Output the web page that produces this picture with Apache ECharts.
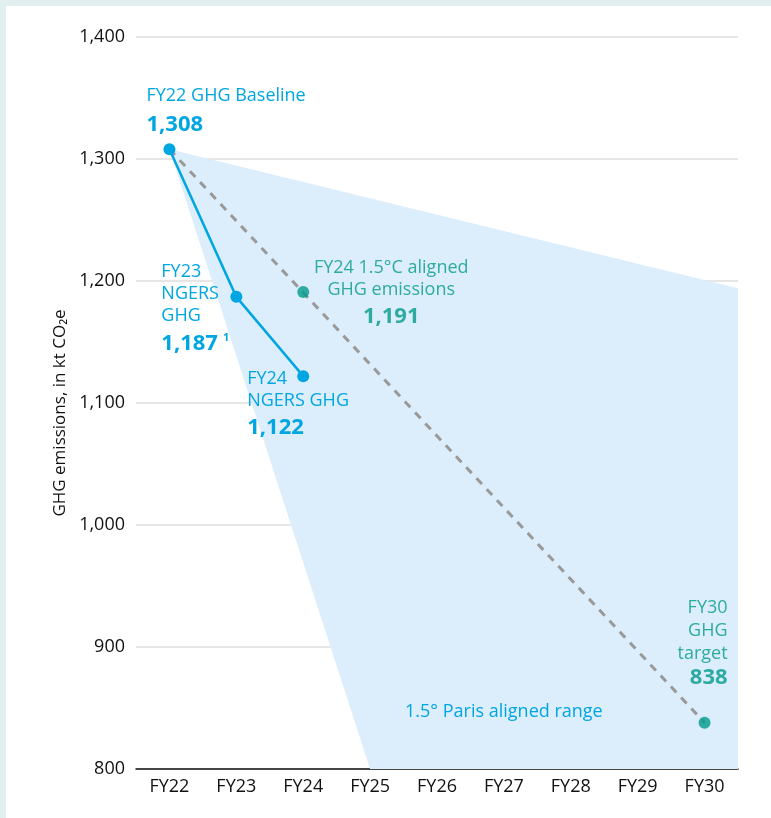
<!DOCTYPE html>
<html>
<head>
<meta charset="utf-8">
<script src="https://cdn.jsdelivr.net/npm/echarts@6/dist/echarts.min.js"></script>
<style>
html,body{margin:0;padding:0;background:#e1efef;}
#chart{width:771px;height:818px;}
</style>
</head>
<body>
<div id="chart"></div>
<script>
const categories = ['FY22','FY23','FY24','FY25','FY26','FY27','FY28','FY29','FY30'];
const yTicks = [800, 900, 1000, 1100, 1200, 1300, 1400];
const ngersValues = [1308, 1187, 1122];          // FY22..FY24
const pathwayValues = [[0, 1308], [8, 838]];     // dashed 1.5°C pathway
const alignedPoints = [[2, 1191], [8, 838]];     // FY24 aligned, FY30 target
const parisRange = [[0, 1308], [8.5, 1194], [8.5, 800], [3, 800]];
const rangeLabelAt = [5, 847];

const BLUE = '#00a6e2';
const GREEN = '#009a8b';
const FONT = 'Open Sans';
const FS = 18;

const chart = echarts.init(document.getElementById('chart'));

const richA = (color) => ({ fontSize: FS, color: color, lineHeight: 22, fontFamily: FONT });
const richB = (color, lh) => ({ fontSize: 22, fontWeight: 'bold', color: color, lineHeight: lh, fontFamily: FONT });

const fmt = (v) => v.toLocaleString('en-US');

const option = {
  backgroundColor: '#e1efef',
  animation: false,
  graphic: [{
    type: 'rect', left: 6, top: 6, shape: { width: 765, height: 812 },
    style: { fill: '#ffffff' }, z: -10, silent: true
  }],
  grid: { left: 136, right: 33, top: 37, bottom: 49 },
  xAxis: {
    type: 'value', min: -0.5, max: 8.5,
    axisLine: { show: true, onZero: false, lineStyle: { color: '#111', width: 1.5 } },
    axisTick: { show: false },
    splitLine: { show: false },
    axisLabel: {
      customValues: categories.map((c, i) => i),
      formatter: (v) => categories[Math.round(v)],
      color: '#111', fontSize: FS, fontFamily: FONT, margin: 9
    }
  },
  yAxis: {
    type: 'value', min: yTicks[0], max: yTicks[yTicks.length - 1], interval: 100,
    name: 'GHG emissions, in kt CO₂e',
    nameLocation: 'middle', nameGap: 61, nameRotate: 90,
    nameTextStyle: { color: '#111', fontSize: 17, fontFamily: FONT, padding: [0, 20, 0, 0] },
    axisLine: { show: false }, axisTick: { show: false },
    splitLine: { lineStyle: { color: '#dedede', width: 1.5 } },
    axisLabel: { formatter: (v) => fmt(v), color: '#111', fontSize: FS, fontFamily: FONT, margin: 11 }
  },
  series: [
    {
      type: 'custom', silent: true, z: 1,
      data: [0],
      renderItem: (params, api) => {
        const c = api.coord(rangeLabelAt);
        return {
          type: 'group',
          children: [
            { type: 'polygon', shape: { points: parisRange.map(p => api.coord(p)) }, style: { fill: '#dcedfb' } },
            { type: 'text', x: c[0], y: c[1], style: { text: '1.5° Paris aligned range', fill: BLUE, fontSize: FS, fontFamily: FONT, align: 'center', verticalAlign: 'middle' } }
          ]
        };
      }
    },
    {
      type: 'line', z: 3, silent: true,
      data: pathwayValues, symbol: 'none',
      lineStyle: { color: '#999999', width: 3, type: [8, 7] }
    },
    {
      type: 'line', z: 4, silent: true,
      symbol: 'circle', symbolSize: 12,
      itemStyle: { color: BLUE }, lineStyle: { color: BLUE, width: 2.5 },
      label: { show: true },
      labelLayout: { hideOverlap: false },
      data: [
        { value: [0, ngersValues[0]], label: {
          position: [-17, -60], align: 'left', verticalAlign: 'top',
          formatter: '{a|FY22 GHG Baseline}\n{b|' + fmt(ngersValues[0]) + '}',
          rich: { a: Object.assign(richA(BLUE), { lineHeight: 26 }), b: richB(BLUE, 30) } } },
        { value: [1, ngersValues[1]], label: {
          position: [-69, -30], align: 'left', verticalAlign: 'top',
          formatter: '{a|FY23}\n{a|NGERS}\n{a|GHG}\n{b|' + fmt(ngersValues[1]) + '}{c|1}',
          rich: { a: richA(BLUE), b: richB(BLUE, 34), c: { fontSize: 11, color: BLUE, fontWeight: 'bold', fontFamily: FONT, padding: [0, 0, 12, 5] } } } },
        { value: [2, ngersValues[2]], label: {
          position: [-50, -2], align: 'left', verticalAlign: 'top',
          formatter: '{a|FY24}\n{a|NGERS GHG}\n{b|' + fmt(ngersValues[2]) + '}',
          rich: { a: richA(BLUE), b: richB(BLUE, 32) } } }
      ]
    },
    {
      type: 'scatter', z: 5, silent: true,
      symbol: 'circle', symbolSize: 12,
      itemStyle: { color: GREEN },
      label: { show: true },
      labelLayout: { hideOverlap: false },
      data: [
        { value: alignedPoints[0], label: {
          position: [94, -29], align: 'center', verticalAlign: 'top',
          formatter: '{a|FY24 1.5°C aligned}\n{a|GHG emissions}\n{b|' + fmt(alignedPoints[0][1]) + '}',
          rich: { a: richA(GREEN), b: richB(GREEN, 32) } } },
        { value: alignedPoints[1], label: {
          position: [29, -120], align: 'right', verticalAlign: 'top',
          formatter: '{a|FY30}\n{a|GHG}\n{a|target}\n{b|' + fmt(alignedPoints[1][1]) + '}',
          rich: { a: Object.assign(richA(GREEN), { lineHeight: 23 }), b: richB(GREEN, 25) } } }
      ]
    }
  ]
};
chart.setOption(option);
</script>
</body>
</html>
